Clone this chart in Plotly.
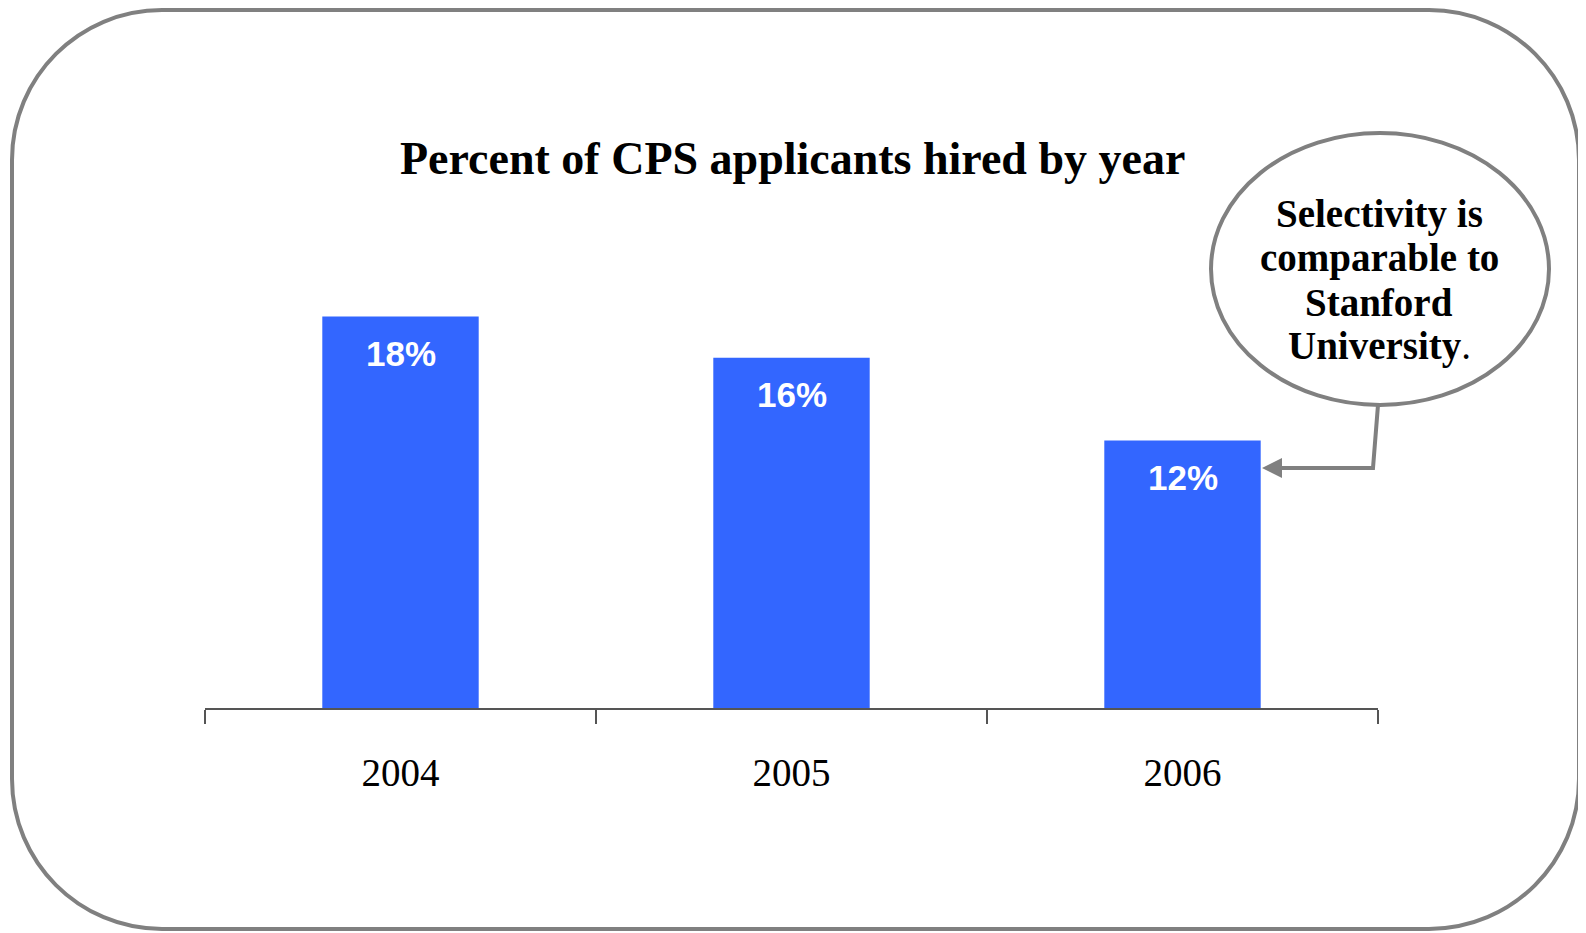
"""Percent of CPS applicants hired by year - bar chart with callout."""

import plotly.graph_objects as go

# Data
years = ["2004", "2005", "2006"]
hired_pct = [18.0, 16.1, 12.3]
bar_labels = [f"{round(v)}%" for v in hired_pct]

title_text = "Percent of CPS applicants hired by year"
callout_lines = ["Selectivity is", "comparable to", "Stanford", "University"]

# Page has an 8px body margin, so the figure is drawn 8px in from the window
OFF = 8
W, H = 1586 - OFF, 933 - OFF
# Plot-area geometry in window pixels
L, R, T, B = 205, 1378, 273, 708

GRAY = "#808080"
BLUE = "#3366FF"
SERIF = "Liberation Serif, Times New Roman, serif"
SANS = "Liberation Sans, Arial, sans-serif"


def px(x):
    # window pixel x -> paper x
    return (x - L) / (R - L)


def py(y):
    # window pixel y -> paper y
    return (B - y) / (B - T)


def rounded_rect_path(x0, y0, x1, y1, r):
    k = 0.5523 * r
    pts = [
        f"M {px(x0 + r)} {py(y0)}",
        f"L {px(x1 - r)} {py(y0)}",
        f"C {px(x1 - r + k)} {py(y0)} {px(x1)} {py(y0 + r - k)} {px(x1)} {py(y0 + r)}",
        f"L {px(x1)} {py(y1 - r)}",
        f"C {px(x1)} {py(y1 - r + k)} {px(x1 - r + k)} {py(y1)} {px(x1 - r)} {py(y1)}",
        f"L {px(x0 + r)} {py(y1)}",
        f"C {px(x0 + r - k)} {py(y1)} {px(x0)} {py(y1 - r + k)} {px(x0)} {py(y1 - r)}",
        f"L {px(x0)} {py(y0 + r)}",
        f"C {px(x0)} {py(y0 + r - k)} {px(x0 + r - k)} {py(y0)} {px(x0 + r)} {py(y0)}",
        "Z",
    ]
    return " ".join(pts)


fig = go.Figure()

fig.add_trace(
    go.Bar(
        x=years,
        y=hired_pct,
        marker={"color": BLUE, "line": {"width": 0}},
        hoverinfo="skip",
    )
)

# Value labels inside the top of each bar (x given as category index)
for i, (v, lab) in enumerate(zip(hired_pct, bar_labels)):
    fig.add_annotation(
        x=i,
        y=v,
        text=f"<b>{lab}</b>",
        showarrow=False,
        yanchor="middle",
        yshift=-37,
        font={"family": SANS, "size": 35, "color": "white"},
    )

# Title
fig.add_annotation(
    x=px(792),
    y=py(158),
    xref="paper",
    yref="paper",
    text=f"<b>{title_text}</b>",
    showarrow=False,
    xanchor="center",
    yanchor="middle",
    font={"family": SERIF, "size": 46, "color": "black"},
)

# Outer rounded frame
fig.add_shape(
    type="path",
    xref="paper",
    yref="paper",
    path=rounded_rect_path(12, 10, 1579, 929, 150),
    line={"color": GRAY, "width": 4},
    layer="below",
)

# Callout tail (vertical part) and arrow to the 2006 bar
fig.add_shape(
    type="path",
    xref="paper",
    yref="paper",
    path=f"M {px(1378)} {py(405)} L {px(1373)} {py(468)} L {px(1300)} {py(468)}",
    line={"color": GRAY, "width": 4},
)
fig.add_annotation(
    x=px(1262),
    y=py(468),
    xref="paper",
    yref="paper",
    ax=111,
    ay=0,
    text="",
    showarrow=True,
    arrowhead=2,
    arrowsize=1,
    arrowwidth=4,
    arrowcolor=GRAY,
)

# Callout ellipse
fig.add_shape(
    type="circle",
    xref="paper",
    yref="paper",
    x0=px(1211),
    x1=px(1549),
    y0=py(405),
    y1=py(133),
    line={"color": GRAY, "width": 4},
    fillcolor="white",
)
for k, line in enumerate(callout_lines):
    tail = "." if k == len(callout_lines) - 1 else ""
    fig.add_annotation(
        x=px(1379),
        y=py(214 + 44 * k),
        xref="paper",
        yref="paper",
        text=f"<b>{line}</b>{tail}",
        showarrow=False,
        xanchor="center",
        yanchor="middle",
        font={"family": SERIF, "size": 39, "color": "black"},
    )

fig.update_layout(
    width=W,
    height=H,
    margin={
        "l": L - OFF,
        "r": W - (R - OFF),
        "t": T - OFF,
        "b": H - (B - OFF),
        "pad": 0,
        "autoexpand": False,
    },
    paper_bgcolor="white",
    plot_bgcolor="white",
    showlegend=False,
    bargap=0.6,
)

fig.update_xaxes(
    type="category",
    range=[-0.5, 2.5],
    tickson="boundaries",
    ticks="outside",
    ticklen=14,
    tickwidth=1.5,
    tickcolor="#555555",
    tickangle=0,
    showline=True,
    linecolor="#555555",
    linewidth=1.5,
    showgrid=False,
    automargin=False,
    ticklabelstandoff=29,
    tickfont={"family": SERIF, "size": 39, "color": "black"},
)
fig.update_yaxes(
    range=[0, 20],
    visible=False,
    showgrid=False,
    automargin=False,
)

fig.write_html("out.html")
